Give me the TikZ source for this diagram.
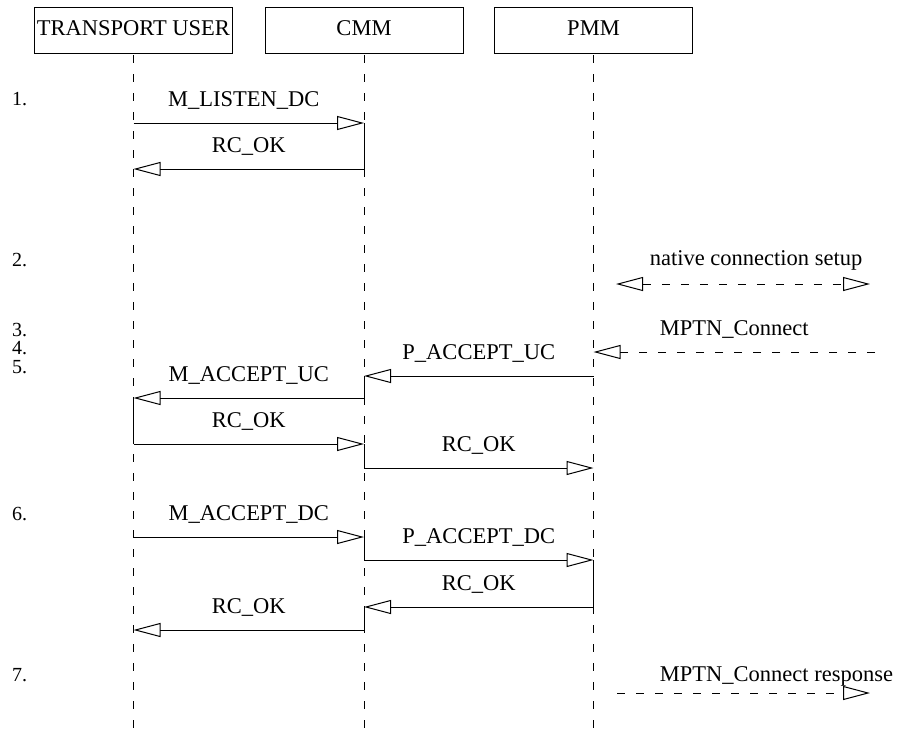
\documentclass[tikz,border=0pt]{standalone}
\usepackage{fontspec}
\setmainfont{Liberation Serif}
\usetikzlibrary{arrows.meta}
\begin{document}
\begin{tikzpicture}[x=1pt,y=-1pt,
  font=\fontsize{22.5}{27}\selectfont,
  actor/.style={draw, line width=0.9pt, minimum width=198pt, minimum height=46pt,
    inner sep=0pt, text height=15pt, text depth=4pt},
  lifeline/.style={line width=0.9pt, dash pattern=on 8pt off 11pt, dash phase=-2pt},
  active/.style={line width=0.9pt},
  opentip/.tip={Triangle[open, length=27pt, width=14pt, line width=1pt]},
  msg/.style={line width=0.9pt, -opentip},
  dmsg/.style={msg, dash pattern=on 8pt off 11pt},
  lbl/.style={anchor=base, yshift=17pt, inner sep=0pt},
  stepno/.style={anchor=base west, inner sep=0pt, text height=13pt, text depth=0pt,
    font=\fontsize{20}{24}\selectfont}]
\useasboundingbox (0,0) rectangle (904,731);

% participants
\node[actor] (tu)  at (133.5,30) {TRANSPORT USER};
\node[actor] (cmm) at (364,30)   {CMM};
\node[actor] (pmm) at (593.5,30) {PMM};

% lifelines
\coordinate (bot) at (0,731);
\draw[lifeline] (tu.south)  -- (tu.south  |- bot);
\draw[lifeline] (cmm.south) -- (cmm.south |- bot);
\draw[lifeline] (pmm.south) -- (pmm.south |- bot);

% step numbers
\node[stepno] (s1) at (12,105) {1.};
\node[stepno] (s2) at (12,266) {2.};
\node[stepno] (s3) at (12,336) {3.};
\node[stepno] (s4) at (12,354.5) {4.};
\node[stepno] (s5) at (12,373) {5.};
\node[stepno] (s6) at (12,520) {6.};
\node[stepno] (s7) at (12,681) {7.};

% message levels
\coordinate (y1a) at (0,123);
\coordinate (y1b) at (0,169);
\coordinate (y4)  at (0,376);
\coordinate (y5a) at (0,398);
\coordinate (y5b) at (0,444);
\coordinate (y5c) at (0,468);
\coordinate (y6a) at (0,537);
\coordinate (y6b) at (0,560);
\coordinate (y6c) at (0,607);
\coordinate (y6d) at (0,630);

% step 1
\draw[active] (cmm |- y1a) -- (cmm |- y1b);
\draw[msg] (tu |- y1a) -- node[lbl, xshift=-5pt] {M\_LISTEN\_DC} (cmm |- y1a);
\draw[msg] (cmm |- y1b) -- node[lbl] {RC\_OK} (tu |- y1b);

% step 2
\coordinate (nl) at (616,284);
\coordinate (nr) at (870,284);
\draw[dmsg, opentip-opentip] (nl) -- node[lbl, yshift=2pt, xshift=13pt] {native connection setup} (nr);

% steps 3 and 4
\coordinate (mc) at (875,352);
\draw[dmsg] (mc) -- node[lbl] {MPTN\_Connect} (pmm |- mc);
\draw[active] (cmm |- y4) -- (cmm |- y5a);
\draw[msg] (pmm |- y4) -- node[lbl] {P\_ACCEPT\_UC} (cmm |- y4);

% step 5
\draw[active] (tu |- y5a) -- (tu |- y5b);
\draw[active] (cmm |- y5b) -- (cmm |- y5c);
\draw[msg] (cmm |- y5a) -- node[lbl] {M\_ACCEPT\_UC} (tu |- y5a);
\draw[msg] (tu |- y5b) -- node[lbl] {RC\_OK} (cmm |- y5b);
\draw[msg] (cmm |- y5c) -- node[lbl] {RC\_OK} (pmm |- y5c);

% step 6
\draw[active] (cmm |- y6a) -- (cmm |- y6b);
\draw[active] (pmm |- y6b) -- (pmm |- y6c);
\draw[active] (cmm |- y6c) -- (cmm |- y6d);
\draw[msg] (tu |- y6a) -- node[lbl] {M\_ACCEPT\_DC} (cmm |- y6a);
\draw[msg] (cmm |- y6b) -- node[lbl] {P\_ACCEPT\_DC} (pmm |- y6b);
\draw[msg] (pmm |- y6c) -- node[lbl] {RC\_OK} (cmm |- y6c);
\draw[msg] (cmm |- y6d) -- node[lbl] {RC\_OK} (tu |- y6d);

% step 7
\coordinate (rl) at (617,693);
\coordinate (rr) at (870,693);
\draw[dmsg] (rl) -- node[lbl, yshift=-5pt, xshift=33pt] {MPTN\_Connect response} (rr);
\end{tikzpicture}
\end{document}
